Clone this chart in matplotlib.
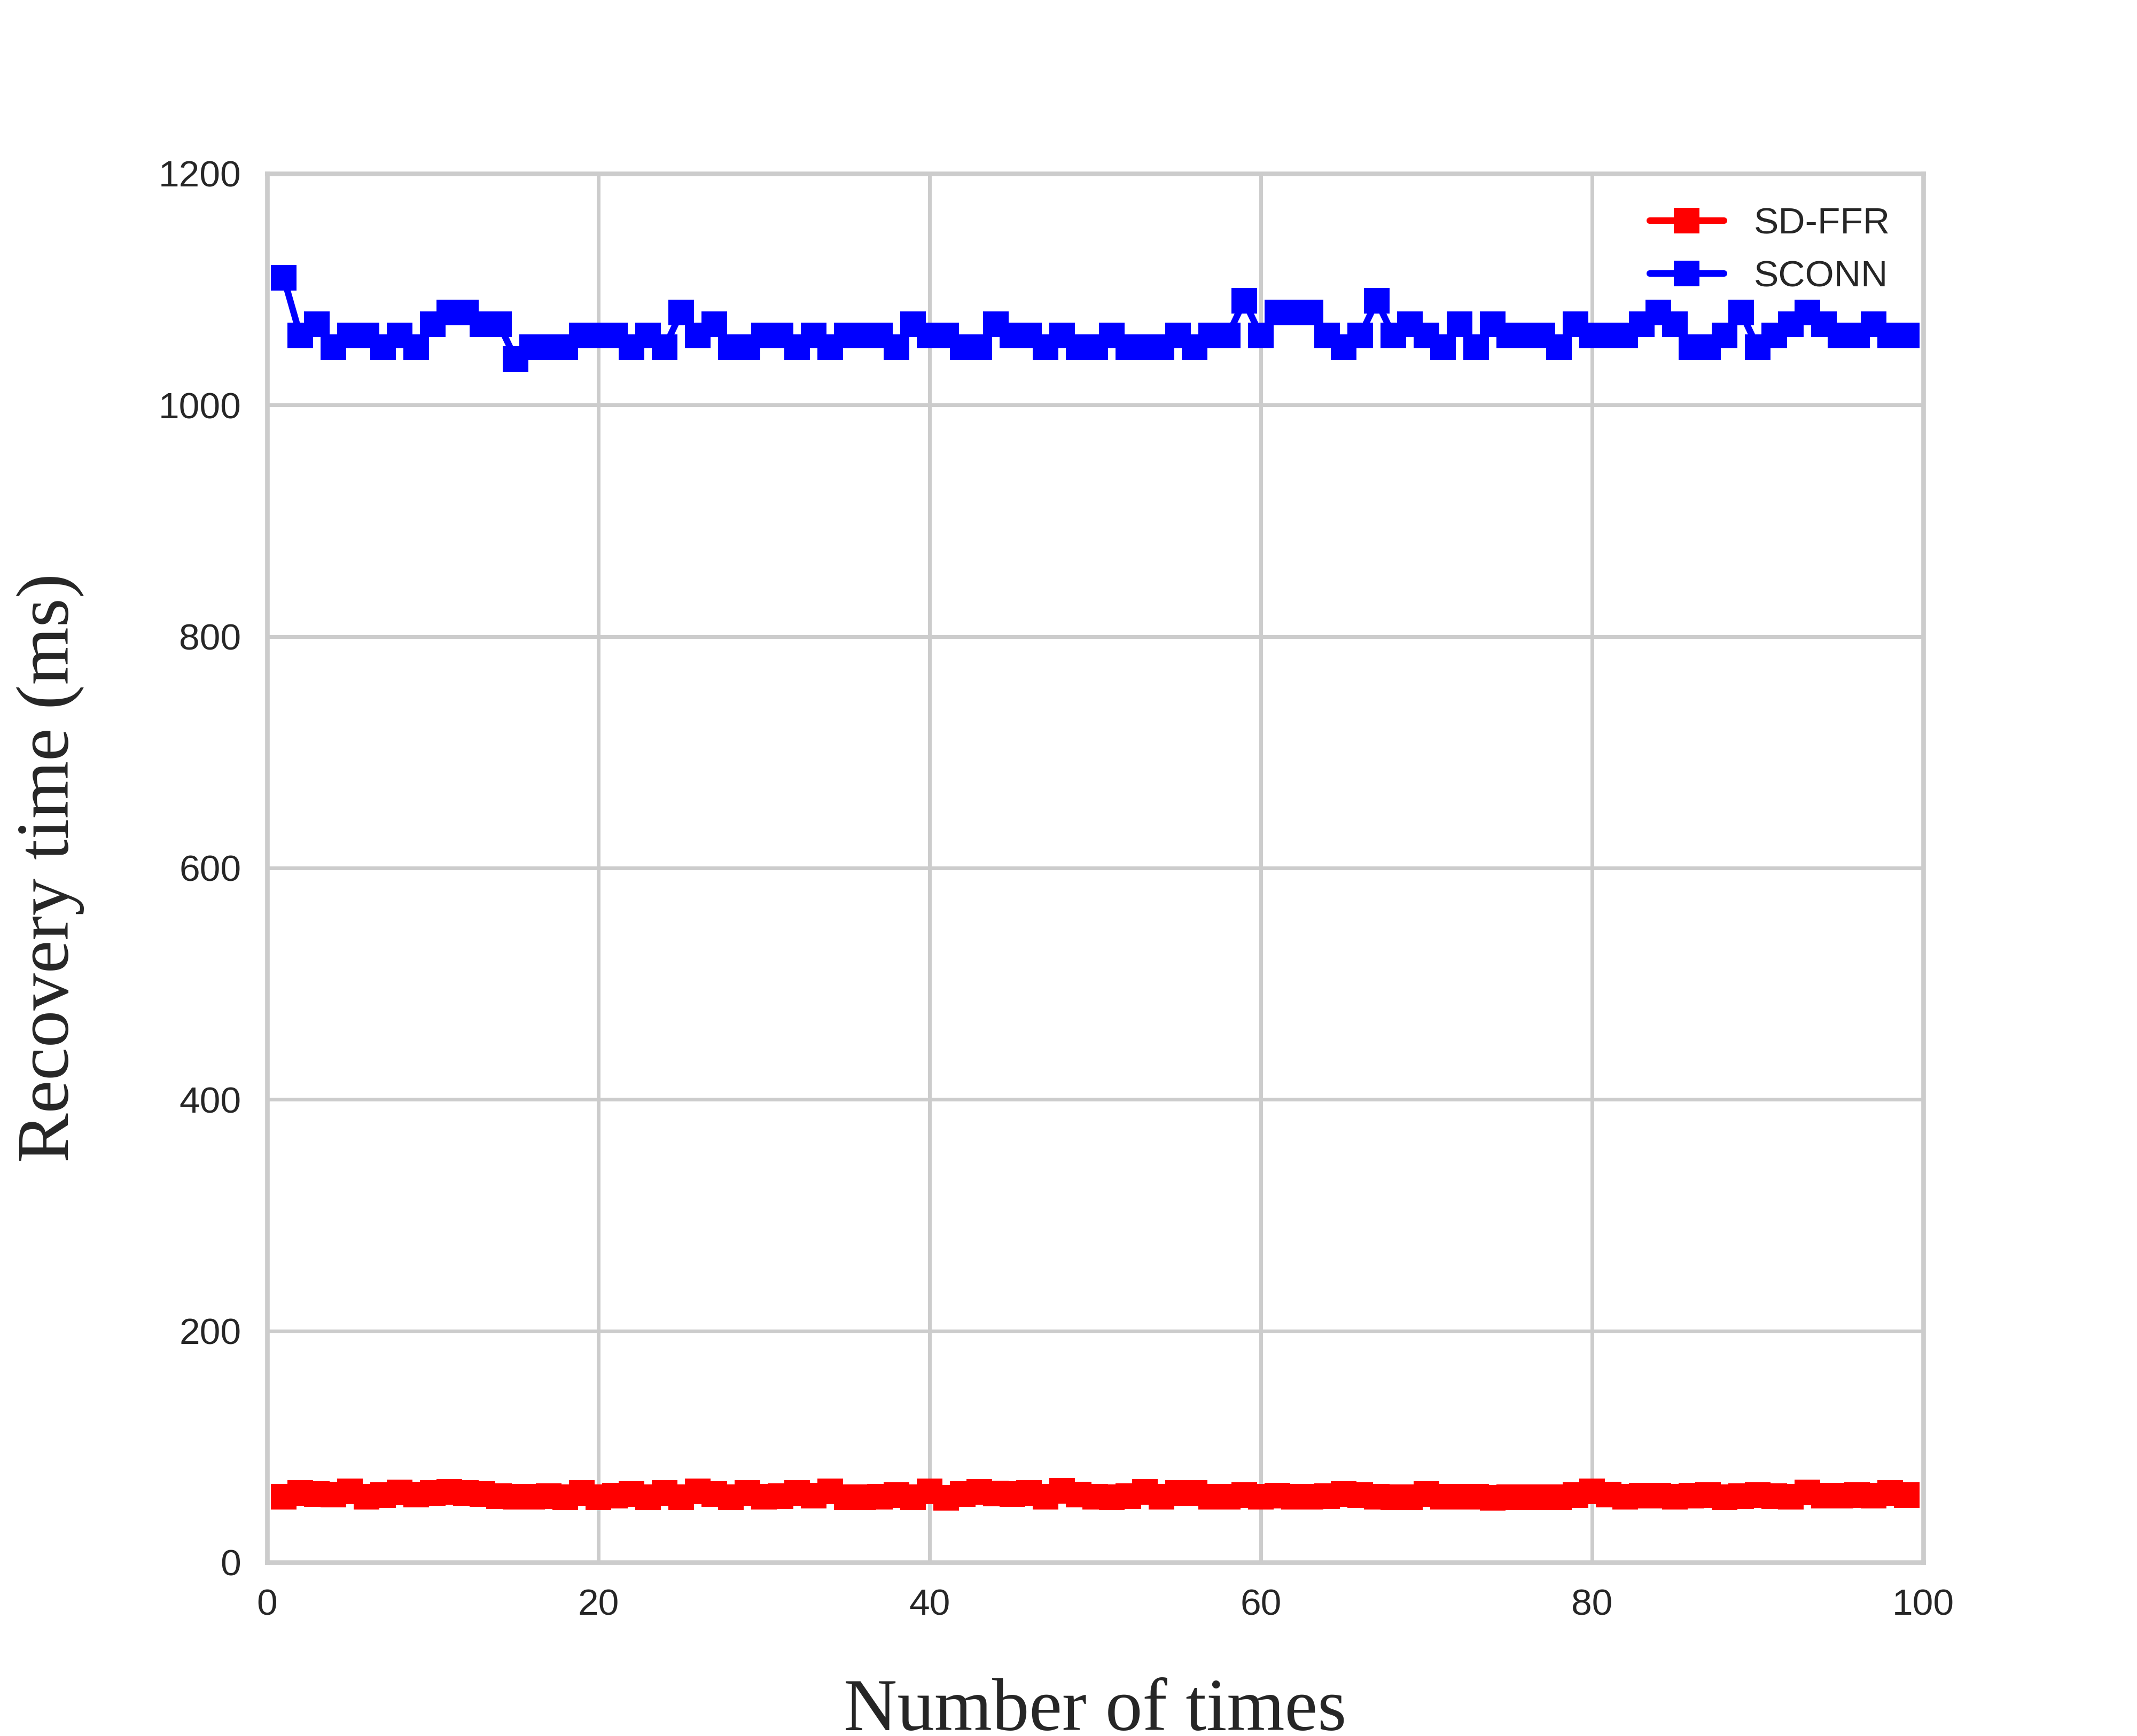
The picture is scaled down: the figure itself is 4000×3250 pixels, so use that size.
import matplotlib
matplotlib.use("Agg")
import matplotlib.pyplot as plt

# old seaborn "whitegrid" + notebook look, set by hand
plt.rcParams.update({
    'font.family': ['Liberation Sans', 'DejaVu Sans'],
    'font.size': 10,
    'axes.facecolor': 'white',
    'axes.edgecolor': '#cccccc',
    'axes.linewidth': 1.25,
    'axes.grid': True,
    'grid.color': '#cccccc',
    'grid.linewidth': 1.0,
    'grid.linestyle': '-',
    'xtick.major.size': 0,
    'ytick.major.size': 0,
    'xtick.major.pad': 7,
    'ytick.major.pad': 7,
    'xtick.labelsize': 10,
    'ytick.labelsize': 10,
    'xtick.color': '#262626',
    'ytick.color': '#262626',
    'text.color': '#262626',
    'axes.labelcolor': '#262626',
    'legend.fontsize': 10,
    'legend.frameon': False,
    'lines.linewidth': 1.75,
    'lines.markersize': 7,
    'lines.markeredgewidth': 0,
    'lines.solid_capstyle': 'round',
})

runs = list(range(1, 100))

sd_ffr = [
    57, 60, 59, 58.7, 61.5, 57, 58.2, 60.5, 58.7, 60,
    61, 60, 59, 57.3, 56.9, 56.9, 57.3, 56.5, 60, 56.4,
    57.8, 59.2, 56.4, 60, 56.4, 61.5, 59.2, 56.4, 60, 56.9,
    57.3, 60, 57.8, 61.5, 56.4, 56.4, 56.9, 58.2, 56.4, 61.5,
    56, 59.2, 61, 59.6, 59.2, 60, 56.9, 61.8, 58.7, 56.9,
    56.4, 57.3, 61, 56.9, 60, 60, 56.9, 56.9, 58.2, 56.9,
    57.8, 56.9, 56.9, 57.3, 59.2, 58.2, 56.9, 56.4, 56.4, 59.2,
    56.9, 56.9, 56.9, 56, 56.4, 56.4, 56.4, 56.4, 58.2, 61.5,
    58.7, 56.9, 57.8, 57.8, 56.9, 57.8, 58.2, 56.4, 57.3, 58.2,
    57.3, 56.9, 60.5, 57.8, 57.8, 58.2, 57.8, 60, 58.2,
]

sconn = [
    1110, 1060, 1070, 1050, 1060, 1060, 1050, 1060, 1050, 1070,
    1080, 1080, 1070, 1070, 1040, 1050, 1050, 1050, 1060, 1060,
    1060, 1050, 1060, 1050, 1080, 1060, 1070, 1050, 1050, 1060,
    1060, 1050, 1060, 1050, 1060, 1060, 1060, 1050, 1070, 1060,
    1060, 1050, 1050, 1070, 1060, 1060, 1050, 1060, 1050, 1050,
    1060, 1050, 1050, 1050, 1060, 1050, 1060, 1060, 1090, 1060,
    1080, 1080, 1080, 1060, 1050, 1060, 1090, 1060, 1070, 1060,
    1050, 1070, 1050, 1070, 1060, 1060, 1060, 1050, 1070, 1060,
    1060, 1060, 1070, 1080, 1070, 1050, 1050, 1060, 1080, 1050,
    1060, 1070, 1080, 1070, 1060, 1060, 1070, 1060, 1060,
]

fig, ax = plt.subplots(figsize=(8, 6.5))
fig.subplots_adjust(left=0.125, right=0.9, bottom=0.1, top=0.9)

ax.plot(runs, sd_ffr, color='red', marker='s', label='SD-FFR')
ax.plot(runs, sconn, color='blue', marker='s', label='SCONN')

ax.set_xlim(0, 100)
ax.set_ylim(0, 1200)
ax.set_xticks(range(0, 101, 20))
ax.set_yticks(range(0, 1201, 200))

ax.set_xlabel('Number of times', family='Liberation Serif', fontsize=20, labelpad=15)
ax.set_ylabel('Recovery time (ms)', family='Liberation Serif', fontsize=20, labelpad=20)

ax.legend(loc='upper right')

plt.savefig('out.png', dpi=500)
